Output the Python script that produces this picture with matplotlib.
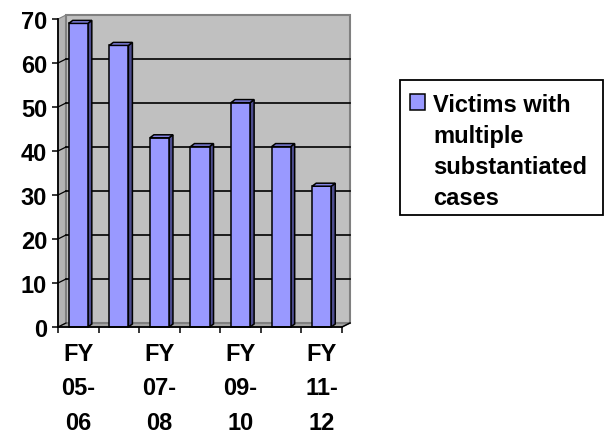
import matplotlib
matplotlib.use("Agg")
import matplotlib.pyplot as plt
from matplotlib.patches import Polygon, Rectangle, Patch
from matplotlib.legend_handler import HandlerPatch
import numpy as np

categories = ["FY 05-06", "FY 06-07", "FY 07-08", "FY 08-09", "FY 09-10", "FY 10-11", "FY 11-12"]
values = [69, 64, 43, 41, 51, 41, 32]
series_name = "Victims with\nmultiple\nsubstantiated\ncases"
y_ticks = [0, 10, 20, 30, 40, 50, 60, 70]

plt.rcParams['font.family'] = ['Liberation Sans', 'DejaVu Sans']
plt.rcParams['font.weight'] = 'bold'
FS = 17

FRONT = '#9999FF'
SIDE = '#4D4D8F'
TOP = '#8484E6'

fig = plt.figure(figsize=(6.05, 4.35), dpi=100)
W, H = 605, 435
ax = fig.add_axes([58 / W, 107 / H, 284 / W, 308 / H])
n = len(categories)
ymax = y_ticks[-1]
ax.set_xlim(0, n)
ax.set_ylim(0, ymax)
ax.patch.set_visible(False)


def px(dx, dy):
    p0 = ax.transData.transform((0, 0))
    p1 = ax.transData.transform((1, 1))
    return dx / (p1[0] - p0[0]), dy / (p1[1] - p0[1])


wdx, wdy = px(8, 4)
bdx, bdy = px(4, 3)

# floor
ax.add_patch(Polygon([(0, 0), (n, 0), (n + wdx, wdy), (wdx, wdy)], closed=True,
                     fc='#A4A4A4', ec='#808080', lw=0.8, clip_on=False, zorder=1))
# left side wall
ax.add_patch(Polygon([(0, 0), (0, ymax), (wdx, ymax + wdy), (wdx, wdy)], closed=True,
                     fc='#B4B4B4', ec='#808080', lw=0.8, clip_on=False, zorder=1))
# back wall
ax.add_patch(Rectangle((wdx, wdy), n, ymax, fc='#C0C0C0', ec='#808080', lw=1.5,
                       clip_on=False, zorder=1))
# gridlines
for t in y_ticks[1:-1]:
    ax.plot([wdx, n + wdx], [t + wdy, t + wdy], color='black', lw=1.2, clip_on=False, zorder=2)
for t in y_ticks[:-1]:
    ax.plot([0, wdx], [t, t + wdy], color='black', lw=0.9, clip_on=False, zorder=2)

centers = np.arange(n) + 0.5
bw = 0.47
ax.bar(centers, values, width=bw, color=FRONT, edgecolor='black', linewidth=1.1,
       zorder=4, clip_on=False, label=series_name.replace("\n", " "))
for c, v in zip(centers, values):
    l, r = c - bw / 2, c + bw / 2
    ax.add_patch(Polygon([(r, 0), (r, v), (r + bdx, v + bdy), (r + bdx, bdy)], closed=True,
                         fc=SIDE, ec='black', lw=1.1, zorder=3, clip_on=False))
    ax.add_patch(Polygon([(l, v), (r, v), (r + bdx, v + bdy), (l + bdx, v + bdy)], closed=True,
                         fc=TOP, ec='black', lw=1.1, zorder=5, clip_on=False))

# floor right edge
ax.plot([n, n + wdx], [0, wdy], color='black', lw=1.1, clip_on=False, zorder=6)

for s in ['top', 'right']:
    ax.spines[s].set_visible(False)
for s in ['left', 'bottom']:
    ax.spines[s].set_color('black')
    ax.spines[s].set_linewidth(1.3)
    ax.spines[s].set_zorder(6)

ax.set_yticks(y_ticks)
ax.set_yticklabels([str(t) for t in y_ticks], fontsize=FS, fontweight='bold')
ax.tick_params(axis='y', direction='out', length=4.3, width=1.1, pad=3.5)
ax.set_xticks(np.arange(n + 1))
ax.set_xticklabels([])
ax.tick_params(axis='x', which='major', direction='out', length=4.3, width=1.1)
lab_idx = list(range(0, n, 2))
ax.set_xticks(centers[lab_idx], minor=True)
ax.set_xticklabels([categories[i].replace(" ", "\n").replace("-", "-\n") for i in lab_idx],
                   minor=True, fontsize=FS, fontweight='bold', linespacing=1.65)
ax.tick_params(axis='x', which='minor', length=0, pad=10.5)

PITCH_PT = 32.7 / 1.389


class FirstLineHandler(HandlerPatch):
    def create_artists(self, legend, orig_handle, xdescent, ydescent, width, height,
                       fontsize, trans):
        shift = 1.5 * PITCH_PT + 0.5
        p = Rectangle((-xdescent, -ydescent + shift), width, height,
                      fc=FRONT, ec='black', lw=1.1, transform=trans)
        return [p]


handle = Patch(facecolor=FRONT, edgecolor='black')
leg = ax.legend([handle], [series_name], loc='upper left',
                bbox_to_anchor=(410 / W, 1 - 94 / H), bbox_transform=fig.transFigure,
                frameon=False, borderpad=0, borderaxespad=0,
                handlelength=0.64, handleheight=0.64, handletextpad=0.34,
                prop={'size': FS, 'weight': 'bold'},
                handler_map={Patch: FirstLineHandler()})
for t in leg.get_texts():
    t.set_linespacing(1.45)
fig.add_artist(Rectangle((400 / W, 1 - 216 / H), 203 / W, 135 / H, transform=fig.transFigure,
                         fill=False, ec='black', lw=1.3))

fig.savefig("out.png", dpi=100)
